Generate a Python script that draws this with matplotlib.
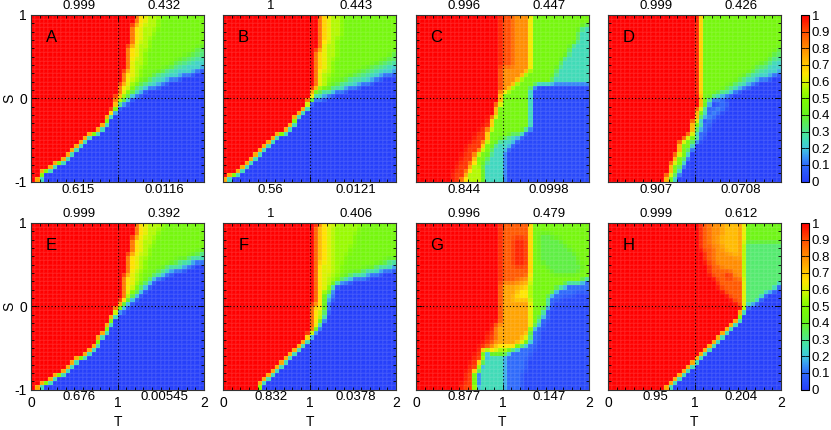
import numpy as np
import matplotlib
matplotlib.use('Agg')
import matplotlib.pyplot as plt
from matplotlib.colors import LinearSegmentedColormap, Normalize
from matplotlib.cm import ScalarMappable
from matplotlib.path import Path
from matplotlib.ticker import MultipleLocator

plt.rcParams['font.family'] = ['Liberation Sans', 'DejaVu Sans']
plt.rcParams['axes.unicode_minus'] = False

# Simulation grid: 41 x 41 points in the (T, S) plane
T_grid = np.linspace(0, 2, 41)
S_grid = np.linspace(-1, 1, 41)

letters = ['A', 'B', 'C', 'D', 'E', 'F', 'G', 'H']
top_left_vals = ['0.999', '1', '0.996', '0.999', '0.999', '1', '0.996', '0.999']
top_right_vals = ['0.432', '0.443', '0.447', '0.426', '0.392', '0.406', '0.479', '0.612']
bottom_left_vals = ['0.615', '0.56', '0.844', '0.907', '0.676', '0.832', '0.877', '0.95']
bottom_right_vals = ['0.0116', '0.0121', '0.0998', '0.0708', '0.00545', '0.0378', '0.147', '0.204']

cbar_ticks = [0, 0.1, 0.2, 0.3, 0.4, 0.5, 0.6, 0.7, 0.8, 0.9, 1.0]
cbar_labels = ['0', '0.1', '0.2', '0.3', '0.4', '0.5', '0.6', '0.7', '0.8', '0.9', '1']

# palette (level, rgb)
palette = [
    (0.00, (0.15, 0.25, 0.98)),
    (0.10, (0.18, 0.42, 0.98)),
    (0.15, (0.22, 0.60, 0.95)),
    (0.20, (0.25, 0.78, 0.86)),
    (0.25, (0.25, 0.86, 0.72)),
    (0.30, (0.30, 0.90, 0.55)),
    (0.35, (0.35, 0.93, 0.35)),
    (0.40, (0.40, 0.95, 0.12)),
    (0.50, (0.50, 0.98, 0.00)),
    (0.55, (0.66, 0.98, 0.00)),
    (0.60, (0.86, 0.95, 0.00)),
    (0.65, (1.00, 0.90, 0.00)),
    (0.70, (1.00, 0.78, 0.00)),
    (0.80, (1.00, 0.55, 0.00)),
    (0.90, (1.00, 0.30, 0.00)),
    (1.00, (1.00, 0.00, 0.00)),
]
cmap = LinearSegmentedColormap.from_list('coop', palette)


def left_of(edge):
    # everything left of an edge running bottom -> top
    return [(-3, -3), (edge[0][0], -3)] + edge + [(edge[-1][0], 3), (-3, 3)]


def left_band(edge):
    return edge + [(-3, edge[-1][1]), (-3, edge[0][1])]


def below(edge):
    # everything below an edge running left -> right
    return [(edge[0][0], -3)] + edge + [(edge[-1][0], -3)]


# ---------------- Panel A ----------------
edge_red_A = [(0.03, -1.1), (0.05, -1.0), (0.18, -0.87), (0.42, -0.71), (0.63, -0.5), (0.82, -0.35),
              (0.95, -0.14), (0.99, 0.02), (1.09, 0.26), (1.13, 0.5), (1.18, 0.78), (1.24, 1.0), (1.25, 1.1)]
edge_blue_A = [(-0.2, -1.2), (0.05, -0.97), (0.18, -0.84), (0.42, -0.68), (0.63, -0.47), (0.82, -0.32),
               (0.95, -0.16), (1.17, -0.02), (1.38, 0.12), (1.65, 0.22), (2.0, 0.36), (2.5, 0.45)]
edge_cyan1_A = [(0.9, -0.3), (0.97, -0.12), (1.17, 0.05), (1.38, 0.2), (1.65, 0.33), (2.0, 0.52), (2.5, 0.65)]
edge_cyan2_A = [(0.9, -0.3), (0.97, -0.1), (1.17, 0.1), (1.38, 0.27), (1.65, 0.42), (2.0, 0.64), (2.5, 0.8)]
edge_yel1_A = [(0.97, -0.16), (1.05, 0.02), (1.16, 0.26), (1.21, 0.5), (1.27, 0.78), (1.33, 1.0), (1.34, 1.1)]
edge_yel2_A = [(0.98, -0.16), (1.12, 0.02), (1.26, 0.26), (1.33, 0.5), (1.42, 0.78), (1.52, 1.0), (1.54, 1.1)]
base_A = 0.46
regions_A = [(0.56, left_band(edge_yel2_A)), (0.66, left_band(edge_yel1_A)),
             (0.34, below(edge_cyan2_A)), (0.23, below(edge_cyan1_A)),
             (0.0, below(edge_blue_A)), (1.0, left_of(edge_red_A))]

# ---------------- Panel B ----------------
edge_red_B = [(0.02, -1.1), (0.04, -1.0), (0.23, -0.83), (0.46, -0.63), (0.67, -0.43), (0.88, -0.22),
              (0.98, -0.1), (1.01, 0.02), (1.06, 0.18), (1.1, 0.58), (1.12, 1.0), (1.12, 1.1)]
edge_blue_B = [(-0.2, -1.2), (0.04, -0.97), (0.23, -0.8), (0.46, -0.6), (0.67, -0.4), (0.88, -0.2),
               (0.98, -0.12), (1.04, -0.04), (1.27, 0.04), (1.54, 0.14), (1.81, 0.24), (2.0, 0.32), (2.5, 0.4)]
edge_cyan1_B = [(0.9, -0.3), (0.98, -0.1), (1.04, 0.02), (1.27, 0.1), (1.54, 0.22), (1.81, 0.34), (2.0, 0.45), (2.5, 0.55)]
edge_cyan2_B = [(0.9, -0.3), (0.98, -0.08), (1.04, 0.06), (1.27, 0.16), (1.54, 0.3), (1.81, 0.44), (2.0, 0.56), (2.5, 0.7)]
edge_yel1_B = [(0.99, -0.12), (1.06, 0.02), (1.13, 0.18), (1.19, 0.58), (1.23, 1.0), (1.24, 1.1)]
edge_yel2_B = [(1.0, -0.12), (1.12, 0.02), (1.22, 0.18), (1.32, 0.58), (1.4, 1.0), (1.41, 1.1)]
base_B = 0.46
regions_B = [(0.56, left_band(edge_yel2_B)), (0.68, left_band(edge_yel1_B)),
             (0.34, below(edge_cyan2_B)), (0.22, below(edge_cyan1_B)),
             (0.0, below(edge_blue_B)), (1.0, left_of(edge_red_B))]

# ---------------- Panel C ----------------
cyan_C = [(-3, -3), (1.01, -3), (1.01, -0.65), (1.14, -0.55), (1.25, -0.43), (1.34, -0.33), (1.34, 0.14),
          (1.5, 0.17), (1.65, 0.22), (1.8, 0.28), (2.0, 0.32), (3, 0.32), (3, 3), (-3, 3)]
green_C = [(-3, -3), (0.74, -3), (0.75, -0.9), (0.8, -0.75), (0.84, -0.68), (0.89, -0.56), (1.0, -0.47),
           (1.18, -0.43), (1.3, -0.36), (1.34, -0.3), (1.34, 0.14), (1.5, 0.17), (1.65, 0.22), (1.8, 0.28),
           (2.0, 0.32), (3, 0.32), (3, 3), (-3, 3)]
greenmid_C = [(0.85, -0.56), (0.89, -0.56), (1.0, -0.47), (1.18, -0.43), (1.3, -0.36), (1.34, -0.3),
              (1.34, 0.16), (0.85, 0.16)]
yellowgreen_C = [(0.45, -1.1), (0.75, -1.1), (0.76, -0.85), (0.72, -0.75), (0.6, -0.75)]
triangle_C = [(1.58, 0.2), (3, 0.2), (3, 0.9), (1.93, 0.9), (1.85, 0.7), (1.76, 0.55), (1.66, 0.4), (1.6, 0.3)]
orange_C = [(0.9, 0.04), (1.02, 0.06), (1.14, 0.15), (1.25, 0.26), (1.32, 0.32), (1.32, 1.1), (0.9, 1.1)]
orangered_C = [(0.9, 0.33), (1.14, 0.38), (1.14, 1.1), (0.9, 1.1)]
edge_red_C = [(0.51, -1.1), (0.62, -0.8), (0.76, -0.6), (0.85, -0.39), (0.91, -0.19), (0.97, -0.01),
              (0.99, 0.05), (0.99, 1.1)]
fringe_C = [(0.4, -1.1), (0.51, -1.1), (0.62, -0.8), (0.76, -0.6), (0.85, -0.39), (0.91, -0.19),
            (0.8, -0.3), (0.6, -0.6), (0.45, -0.9)]
base_C = 0.02
regions_C = [(0.24, cyan_C), (0.46, green_C), (0.46, greenmid_C), (0.56, yellowgreen_C), (0.25, triangle_C),
             (0.8, orange_C), (0.9, orangered_C), (1.0, left_of(edge_red_C)), (0.93, fringe_C)]

# ---------------- Panel D ----------------
edge_red_D = [(0.65, -1.1), (0.73, -0.83), (0.79, -0.71), (0.85, -0.55), (0.94, -0.43), (1.02, -0.22),
              (1.06, -0.1), (1.06, 0.0), (1.08, 0.3), (1.09, 0.7), (1.1, 1.1)]
edge_blue_D = [(0.6, -1.3), (0.76, -1.02), (0.85, -0.85), (0.95, -0.65), (1.02, -0.45), (1.08, -0.3),
               (1.13, -0.14), (1.2, -0.03), (1.37, 0.02), (1.52, 0.1), (1.67, 0.18), (1.87, 0.24), (2.0, 0.32), (2.5, 0.4)]
edge_cyan1_D = [(1.13, -0.14), (1.2, 0.02), (1.37, 0.08), (1.52, 0.17), (1.67, 0.27), (1.87, 0.38), (2.0, 0.5), (2.5, 0.6)]
edge_cyan2_D = [(1.15, -0.1), (1.25, 0.06), (1.37, 0.14), (1.52, 0.24), (1.67, 0.35), (1.87, 0.48), (2.0, 0.62), (2.5, 0.72)]
lightblue_D = [(1.0, -0.5), (1.1, -0.3), (1.17, -0.16), (1.3, -0.05), (1.37, 0.0), (1.37, -0.12), (1.2, -0.3), (1.05, -0.55)]
column_D = [(1.02, 0.0), (1.06, 0.0), (1.08, 0.3), (1.09, 0.7), (1.1, 1.1), (1.02, 1.1)]
base_D = 0.46
regions_D = [(0.34, below(edge_cyan2_D)), (0.23, below(edge_cyan1_D)), (0.0, below(edge_blue_D)),
             (0.12, lightblue_D), (1.0, left_of(edge_red_D)), (0.9, column_D)]

# ---------------- Panel E ----------------
edge_red_E = [(0.05, -1.1), (0.09, -1.0), (0.15, -0.94), (0.26, -0.86), (0.42, -0.78), (0.53, -0.66),
              (0.65, -0.58), (0.76, -0.46), (0.86, -0.3), (0.95, -0.14), (0.99, -0.02), (1.05, 0.1),
              (1.09, 0.3), (1.13, 0.5), (1.17, 0.7), (1.24, 1.0), (1.26, 1.1)]
edge_blue_E = [(-0.2, -1.2), (0.09, -0.97), (0.15, -0.91), (0.26, -0.83), (0.42, -0.75), (0.53, -0.63),
               (0.65, -0.55), (0.76, -0.43), (0.86, -0.27), (0.95, -0.14), (1.05, -0.05), (1.18, 0.06),
               (1.38, 0.26), (1.57, 0.38), (1.8, 0.46), (2.0, 0.54), (2.5, 0.6)]
edge_cyan1_E = [(0.97, -0.1), (1.05, 0.0), (1.18, 0.12), (1.38, 0.32), (1.57, 0.44), (1.8, 0.53), (2.0, 0.62), (2.5, 0.7)]
edge_cyan2_E = [(0.97, -0.08), (1.05, 0.04), (1.18, 0.17), (1.38, 0.37), (1.57, 0.5), (1.8, 0.6), (2.0, 0.7), (2.5, 0.8)]
edge_yel1_E = [(0.97, -0.14), (1.04, -0.02), (1.12, 0.1), (1.17, 0.3), (1.22, 0.5), (1.27, 0.7), (1.34, 1.0), (1.36, 1.1)]
edge_yel2_E = [(0.97, -0.14), (1.08, -0.02), (1.18, 0.1), (1.25, 0.3), (1.32, 0.5), (1.4, 0.7), (1.52, 1.0), (1.55, 1.1)]
base_E = 0.46
regions_E = [(0.56, left_band(edge_yel2_E)), (0.66, left_band(edge_yel1_E)),
             (0.34, below(edge_cyan2_E)), (0.22, below(edge_cyan1_E)),
             (0.0, below(edge_blue_E)), (1.0, left_of(edge_red_E))]

# ---------------- Panel F ----------------
edge_red_F = [(0.4, -1.1), (0.42, -0.98), (0.52, -0.86), (0.67, -0.7), (0.88, -0.5), (0.96, -0.42),
              (1.0, -0.34), (1.04, -0.22), (1.04, 0.0), (1.06, 0.1), (1.08, 0.5), (1.1, 1.0), (1.1, 1.1)]
edge_blue_F = [(0.1, -1.4), (0.42, -0.95), (0.52, -0.83), (0.67, -0.67), (0.88, -0.47), (0.96, -0.39),
               (1.02, -0.34), (1.1, -0.28), (1.18, -0.15), (1.22, -0.05), (1.25, 0.1), (1.27, 0.2),
               (1.35, 0.26), (1.54, 0.32), (1.77, 0.38), (2.0, 0.46), (2.5, 0.5)]
edge_cyan1_F = [(1.2, 0.1), (1.27, 0.23), (1.35, 0.3), (1.54, 0.37), (1.77, 0.44), (2.0, 0.53), (2.5, 0.6)]
edge_cyan2_F = [(1.2, 0.15), (1.27, 0.27), (1.35, 0.34), (1.54, 0.42), (1.77, 0.5), (2.0, 0.6), (2.5, 0.7)]
edge_yel1_F = [(1.0, -0.36), (1.08, -0.22), (1.1, 0.0), (1.13, 0.2), (1.15, 0.5), (1.18, 1.0), (1.19, 1.1)]
edge_yel2_F = [(1.0, -0.36), (1.12, -0.22), (1.16, 0.0), (1.22, 0.2), (1.27, 0.5), (1.3, 1.0), (1.31, 1.1)]
edge_yel3_F = [(1.0, -0.36), (1.14, -0.2), (1.2, 0.0), (1.3, 0.3), (1.45, 0.6), (1.6, 1.0), (1.62, 1.1)]
base_F = 0.46
regions_F = [(0.53, left_band(edge_yel3_F)), (0.6, left_band(edge_yel2_F)), (0.72, left_band(edge_yel1_F)),
             (0.34, below(edge_cyan2_F)), (0.22, below(edge_cyan1_F)),
             (0.0, below(edge_blue_F)), (1.0, left_of(edge_red_F))]

# ---------------- Panel G ----------------
lightblue_G = [(1.0, -1.1), (1.2, -1.1), (1.25, -0.75), (1.4, -0.45), (1.5, -0.15), (1.6, 0.06), (1.75, 0.14),
               (2.1, 0.2), (2.1, 0.33), (2.0, 0.33), (1.88, 0.28), (1.7, 0.24), (1.56, 0.14), (1.48, -0.05),
               (1.4, -0.22), (1.3, -0.36), (1.0, -0.5)]
green_G = [(1.3, -0.36), (1.4, -0.22), (1.48, -0.05), (1.56, 0.14), (1.7, 0.24), (1.88, 0.28), (2.0, 0.33),
           (3, 0.33), (3, 3), (1.3, 3)]
cyangreen_G = [(1.4, 0.9), (1.6, 0.85), (1.8, 0.7), (1.95, 0.45), (1.85, 0.36), (1.6, 0.36), (1.42, 0.55)]
cyan_G = [(0.68, -1.1), (1.01, -1.1), (1.01, -0.56), (0.82, -0.56), (0.75, -0.72)]
yellowgreen_G = [(0.8, -0.6), (1.01, -0.58), (1.15, -0.52), (1.3, -0.42), (1.33, -0.34), (1.3, -0.3),
                 (1.1, -0.44), (1.0, -0.5), (0.82, -0.5)]
orange_G = [(0.7, -0.52), (1.1, -0.48), (1.28, -0.38), (1.32, -0.3), (1.32, 1.1), (0.7, 1.1)]
orangered_G = [(0.9, 0.25), (1.1, 0.28), (1.32, 0.36), (1.32, 1.1), (0.9, 1.1)]
redpatch_G = [(1.12, 0.45), (1.25, 0.5), (1.25, 0.85), (1.12, 0.8)]
yellowpatch_G = [(1.1, 0.04), (1.3, 0.1), (1.3, 0.25), (1.18, 0.2)]
edge_red_G = [(0.64, -1.1), (0.7, -0.78), (0.78, -0.58), (0.81, -0.5), (0.91, -0.39), (0.96, -0.19),
              (0.98, -0.03), (0.99, 1.1)]
fringe_G = [(0.5, -1.1), (0.64, -1.1), (0.7, -0.78), (0.78, -0.58), (0.81, -0.5), (0.91, -0.39),
            (0.96, -0.19), (0.88, -0.25), (0.75, -0.5), (0.6, -0.8)]
base_G = 0.02
regions_G = [(0.1, lightblue_G), (0.46, green_G), (0.37, cyangreen_G), (0.25, cyan_G),
             (0.55, yellowgreen_G), (0.76, orange_G), (0.88, orangered_G), (0.95, redpatch_G),
             (0.65, yellowpatch_G), (1.0, left_of(edge_red_G)), (0.92, fringe_G)]

# ---------------- Panel H ----------------
orange_H = [(1.08, 1.1), (1.08, 0.8), (1.12, 0.6), (1.2, 0.4), (1.3, 0.25), (1.4, 0.12), (1.5, 0.03),
            (1.57, -0.02), (1.57, 1.1)]
orange2_H = [(1.2, 1.1), (1.2, 0.75), (1.25, 0.55), (1.35, 0.42), (1.5, 0.35), (1.57, 0.3), (1.57, 1.1)]
yelloworange_H = [(1.33, 1.05), (1.3, 0.8), (1.38, 0.62), (1.5, 0.6), (1.54, 0.8), (1.5, 1.05)]
blob_H = [(1.38, 0.32), (1.45, 0.32), (1.45, 0.45), (1.38, 0.45)]
green_H = [(1.58, -0.05), (1.65, 0.0), (1.83, 0.14), (2.0, 0.28), (3, 0.4), (3, 3), (1.58, 3)]
cyangreen_H = [(1.58, -0.05), (1.65, 0.0), (1.83, 0.14), (2.0, 0.28), (3, 0.4), (3, 0.76), (1.58, 0.76)]
edge_blue_H = [(0.2, -1.5), (0.67, -1.0), (0.87, -0.82), (1.06, -0.62), (1.25, -0.42), (1.44, -0.22),
               (1.56, -0.08), (1.65, 0.0), (1.83, 0.14), (2.0, 0.28), (2.5, 0.4)]
base_H = 1.0
regions_H = [(0.88, orange_H), (0.8, orange2_H), (0.72, yelloworange_H), (0.97, blob_H),
             (0.43, green_H), (0.33, cyangreen_H), (0.0, below(edge_blue_H))]

panels = [(base_A, regions_A), (base_B, regions_B), (base_C, regions_C), (base_D, regions_D),
          (base_E, regions_E), (base_F, regions_F), (base_G, regions_G), (base_H, regions_H)]


def build_field(base, regions):
    TT, SS = np.meshgrid(T_grid, S_grid)
    pts = np.column_stack([TT.ravel(), SS.ravel()])
    z = np.full(len(pts), float(base))
    for level, poly in regions:
        z[Path(poly + [poly[0]]).contains_points(pts)] = level
    z = z.reshape(TT.shape)
    # pm3d style: each quad coloured by the mean of its four corners
    return 0.25 * (z[:-1, :-1] + z[1:, :-1] + z[:-1, 1:] + z[1:, 1:])


W, H = 831, 430
col_left = [31, 223, 416, 608]
row_top = [15, 223]
pw, ph = 173, 166.5
fs = 9.5

fig = plt.figure(figsize=(W / 100, H / 100), dpi=100)

for k in range(8):
    r, c = divmod(k, 4)
    ax = fig.add_axes([col_left[c] / W, 1 - (row_top[r] + ph) / H, pw / W, ph / H])
    C = build_field(*panels[k])
    ax.pcolormesh(T_grid, S_grid, C, cmap=cmap, vmin=0, vmax=1, shading='flat',
                  edgecolors=(1, 1, 1, 0.05), linewidth=0.25)
    ax.axvline(1, color='k', lw=0.8, ls=(0, (1, 2)))
    ax.axhline(0, color='k', lw=0.8, ls=(0, (1, 2)))
    ax.set_xlim(0, 2)
    ax.set_ylim(-1, 1)
    ax.set_xticks([0, 1, 2])
    ax.set_yticks([-1, 0, 1])
    ax.xaxis.set_minor_locator(MultipleLocator(0.1))
    ax.yaxis.set_minor_locator(MultipleLocator(0.1))
    ax.tick_params(which='both', direction='in', top=True, right=True, width=0.6, color='k')
    ax.tick_params(which='major', length=4)
    ax.tick_params(which='minor', length=2.5)
    ax.tick_params(axis='x', labelsize=fs + 0.5, pad=5, labelbottom=(r == 1))
    ax.tick_params(axis='y', labelsize=fs + 0.5, pad=3, labelleft=(c == 0))
    for sp in ax.spines.values():
        sp.set_linewidth(0.8)
        sp.set_color('#333333')

    trans = ax.get_xaxis_transform()
    ax.text(0.55, 1 + 9 / ph, top_left_vals[k], transform=trans, ha='center', va='center', fontsize=fs)
    ax.text(1.54, 1 + 9 / ph, top_right_vals[k], transform=trans, ha='center', va='center', fontsize=fs)
    ax.text(0.55, -8 / ph, bottom_left_vals[k], transform=trans, ha='center', va='center', fontsize=fs)
    ax.text(1.54, -8 / ph, bottom_right_vals[k], transform=trans, ha='center', va='center', fontsize=fs)
    ax.text(0.235, 0.73, letters[k], ha='center', va='center', fontsize=12)

    if c == 0:
        ax.text(-22 / pw, 0.5, 'S', transform=ax.transAxes, rotation=90, ha='center', va='center', fontsize=fs + 0.5)
    if r == 1:
        ax.text(0.5, -32 / ph, 'T', transform=ax.transAxes, ha='center', va='center', fontsize=fs + 0.5)

    if c == 3:
        cax = fig.add_axes([801 / W, 1 - (row_top[r] + ph) / H, 8 / W, ph / H])
        cb = fig.colorbar(ScalarMappable(norm=Normalize(0, 1), cmap=cmap), cax=cax)
        cb.set_ticks(cbar_ticks)
        cb.set_ticklabels(cbar_labels)
        cb.outline.set_linewidth(0.8)
        cax.tick_params(direction='in', length=3, width=0.6, left=True, right=True,
                        labelsize=fs, pad=2)

fig.savefig('out.png', dpi=100)
